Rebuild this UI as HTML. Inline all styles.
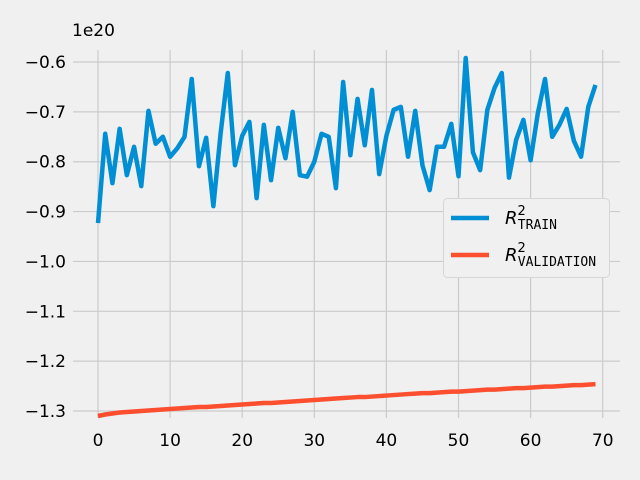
<!DOCTYPE html>
<html><head><meta charset="utf-8"><style>
body{margin:0;background:#f0f0f0}
svg{display:block;font-family:"DejaVu Sans","Liberation Sans",sans-serif}
</style></head><body>
<svg id="chart" width="640" height="480">
<rect width="640" height="480" fill="#f0f0f0"/>
<g id="grid"></g><g id="ticks"></g><g id="series"></g>
<text x="72" y="36" font-size="17" fill="#000">1e20</text>
<g>
<rect x="443.5" y="198.5" width="166" height="79" rx="4" fill="#f0f0f0" stroke="#d6d6d6"/>
<line x1="451" y1="218" x2="489" y2="218" stroke="#008fd5" stroke-width="4.5"/>
<text x="505" y="224" font-size="18" font-style="italic">R<tspan font-style="normal" font-size="13" dy="-9">2</tspan><tspan font-style="normal" font-family="'DejaVu Sans Mono','Liberation Mono',monospace" font-size="13" dx="-8" dy="14">TRAIN</tspan></text>
<line x1="451" y1="255" x2="489" y2="255" stroke="#fc4f30" stroke-width="4.5"/>
<text x="505" y="261" font-size="18" font-style="italic">R<tspan font-style="normal" font-size="13" dy="-9">2</tspan><tspan font-style="normal" font-family="'DejaVu Sans Mono','Liberation Mono',monospace" font-size="13" dx="-8" dy="14">VALIDATION</tspan></text>
</g>
</svg>
<script>
const xTicks=[0,10,20,30,40,50,60,70];
const yTicks=[-0.6,-0.7,-0.8,-0.9,-1.0,-1.1,-1.2,-1.3];
const yTickLabels=["\u22120.6","\u22120.7","\u22120.8","\u22120.9","\u22121.0","\u22121.1","\u22121.2","\u22121.3"];
const trainValues=[-0.923,-0.744,-0.843,-0.734,-0.827,-0.77,-0.849,-0.698,-0.764,-0.75,-0.79,-0.773,-0.75,-0.634,-0.809,-0.752,-0.889,-0.744,-0.622,-0.807,-0.748,-0.72,-0.873,-0.726,-0.837,-0.732,-0.793,-0.7,-0.827,-0.83,-0.8,-0.744,-0.75,-0.853,-0.64,-0.787,-0.674,-0.767,-0.656,-0.825,-0.748,-0.696,-0.69,-0.79,-0.698,-0.807,-0.857,-0.77,-0.77,-0.724,-0.829,-0.592,-0.781,-0.817,-0.696,-0.652,-0.622,-0.832,-0.756,-0.716,-0.797,-0.703,-0.634,-0.75,-0.726,-0.694,-0.758,-0.79,-0.69,-0.646];
const validationValues=[-1.310,-1.307,-1.305,-1.303,-1.302,-1.301,-1.300,-1.299,-1.298,-1.297,-1.296,-1.295,-1.294,-1.293,-1.292,-1.292,-1.291,-1.290,-1.289,-1.288,-1.287,-1.286,-1.285,-1.284,-1.284,-1.283,-1.282,-1.281,-1.280,-1.279,-1.278,-1.277,-1.276,-1.275,-1.274,-1.273,-1.272,-1.272,-1.271,-1.270,-1.269,-1.268,-1.267,-1.266,-1.265,-1.264,-1.264,-1.263,-1.262,-1.261,-1.261,-1.260,-1.259,-1.258,-1.257,-1.257,-1.256,-1.255,-1.254,-1.254,-1.253,-1.252,-1.251,-1.251,-1.250,-1.249,-1.248,-1.248,-1.247,-1.246];
const NS="http://www.w3.org/2000/svg";
const xs=v=>98+v*7.21;
const ys=v=>62+(-0.6-v)*498.6;
const grid=document.getElementById('grid'),ticks=document.getElementById('ticks'),series=document.getElementById('series');
function mk(tag,attrs,parent){const e=document.createElementNS(NS,tag);for(const k in attrs)e.setAttribute(k,attrs[k]);parent.appendChild(e);return e;}
xTicks.forEach(t=>{
 const l=mk('line',{x1:xs(t),x2:xs(t),y1:50,y2:418,stroke:'#cbcbcb','stroke-width':1.2},grid);
 
 
 const tx=mk('text',{x:xs(t),y:446,'font-size':17,'text-anchor':'middle',fill:'#000'},ticks);
 tx.textContent=String(t);
 
 
});
yTicks.forEach((t,i)=>{
 const l=mk('line',{x1:73,x2:620,y1:ys(t),y2:ys(t),stroke:'#cbcbcb','stroke-width':1.2},grid);
 
 
 const tx=mk('text',{x:66,y:ys(t)+6,'font-size':17,'text-anchor':'end',fill:'#000'},ticks);
 tx.textContent=yTickLabels[i];
 
 
});
const p1=mk('polyline',{points:trainValues.map((v,i)=>xs(i)+','+ys(v)).join(' '),fill:'none',stroke:'#008fd5','stroke-width':4.5,'stroke-linejoin':'round'},series);


const p2=mk('polyline',{points:validationValues.map((v,i)=>xs(i)+','+ys(v)).join(' '),fill:'none',stroke:'#fc4f30','stroke-width':4.5,'stroke-linejoin':'round'},series);


</script>
</body></html>
